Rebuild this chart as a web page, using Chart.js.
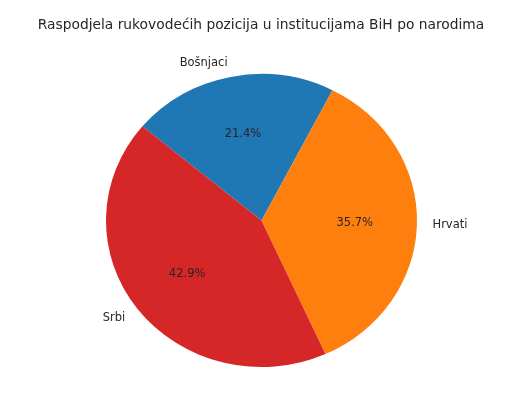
<!DOCTYPE html>
<html>
<head>
<meta charset="utf-8">
<script src="https://cdn.jsdelivr.net/npm/chart.js@4"></script>
<style>
  html, body { margin: 0; padding: 0; background: #fff; }
  #wrap { width: 521px; height: 393px; }
</style>
</head>
<body>
<div id="wrap"><canvas id="pie"></canvas></div>
<script>
const title = "Raspodjela rukovodećih pozicija u institucijama BiH po narodima";
const labels = ["Bošnjaci", "Hrvati", "Srbi"];
const values = [3, 5, 6];
const colors = ["#1f77b4", "#ff7f0e", "#d62728"];

// pie is a bit squashed vertically in the reference
const SY = 293 / 311;
const FONT = "'DejaVu Sans', sans-serif";

const squash = {
	id: "squash",
	beforeDatasetsDraw(chart) {
		const a = chart.getDatasetMeta(0).data[0];
		const ctx = chart.ctx;
		ctx.save();
		ctx.translate(a.x, a.y);
		ctx.scale(1, SY);
		ctx.translate(-a.x, -a.y);
	},
	afterDatasetsDraw(chart) {
		chart.ctx.restore();
	},
};

const pieText = {
	id: "pieText",
	afterDraw(chart) {
		const ctx = chart.ctx;
		const total = values.reduce((s, v) => s + v, 0);
		ctx.save();
		ctx.fillStyle = "#262626";
		ctx.font = "13.8px " + FONT;
		ctx.textAlign = "center";
		ctx.textBaseline = "middle";
		ctx.fillText(title, 261, 25);

		ctx.font = "11.5px " + FONT;
		chart.getDatasetMeta(0).data.forEach((arc, i) => {
			const mid = (arc.startAngle + arc.endAngle) / 2;
			const r = arc.outerRadius;
			const cx = Math.cos(mid), cy = Math.sin(mid);
			// outer label, matplotlib style (labeldistance 1.1)
			ctx.textAlign = cx > 0 ? "left" : "right";
			ctx.fillText(labels[i], arc.x + cx * r * 1.1, arc.y + cy * r * 1.1 * SY);
			// percentage (pctdistance 0.6)
			ctx.textAlign = "center";
			const pct = (values[i] / total * 100).toFixed(1) + "%";
			ctx.fillText(pct, arc.x + cx * r * 0.6, arc.y + cy * r * 0.6 * SY);
		});
		ctx.restore();
	},
};

new Chart(document.getElementById("pie").getContext("2d"), {
	type: "pie",
	data: {
		labels,
		datasets: [{
			data: values,
			backgroundColor: colors,
			borderWidth: 0,
		}],
	},
	options: {
		responsive: true,
		maintainAspectRatio: false,
		animation: false,
		events: [],
		rotation: -50,
		layout: {
			padding: { left: 106, right: 104, top: 65, bottom: 17 },
		},
		plugins: {
			legend: { display: false },
			tooltip: { enabled: false },
		},
	},
	plugins: [squash, pieText],
});
</script>
</body>
</html>
